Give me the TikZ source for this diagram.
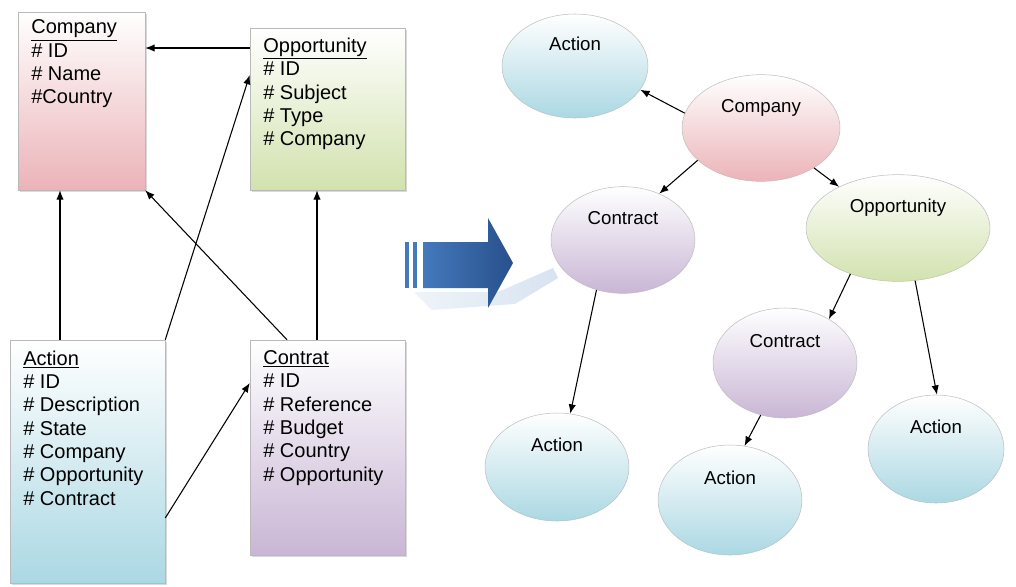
\documentclass[tikz,border=0pt]{standalone}
\usepackage{fontspec}
\setmainfont{Liberation Sans}
\usetikzlibrary{positioning,fit,shapes.geometric,shadows,arrows.meta}
\definecolor{compink}{HTML}{EBB3B8}
\definecolor{oppgreen}{HTML}{D2E2AE}
\definecolor{actblue}{HTML}{ABD8E3}
\definecolor{conpurple}{HTML}{C9B6D5}
\definecolor{arrowlight}{HTML}{4479BC}
\definecolor{arrowdark}{HTML}{28508C}
\begin{document}
\begin{tikzpicture}[x=0.75pt,y=-0.75pt,>={Latex[length=7pt,width=5.5pt]},
    box/.style={draw=gray!55, inner sep=0pt, top color=white,
      drop shadow={shadow xshift=1.5pt, shadow yshift=-1.5pt, opacity=0.3}},
    boxtext/.style={align=left, inner sep=0pt, font=\fontsize{15}{17.5}\selectfont},
    oval/.style={ellipse, draw=gray!50, inner sep=0pt, top color=white,
      minimum width=108pt, minimum height=80pt, text height=10pt, text depth=33pt,
      font=\fontsize{14}{16}\selectfont},
    link/.style={->, line width=0.8pt}]
  \useasboundingbox (0,0) rectangle (1016,586);
  % tables
  \node[box, bottom color=compink, fit={(18,12) (145,190)}] (company) {};
  \node[box, bottom color=oppgreen, fit={(250,28) (405,190)}] (opportunity) {};
  \node[box, bottom color=actblue, fit={(10,340) (165,583)}] (action) {};
  \node[box, bottom color=conpurple, fit={(250,340) (405,555)}] (contrat) {};
  %
  \node[boxtext, below right=6pt and 10pt of company.north west] (companytxt)
    {\underline{Company}\\\# ID\\\# Name\\\#Country};
  \node[boxtext, below right=7.5pt and 10pt of opportunity.north west] (opportunitytxt)
    {\underline{Opportunity}\\\# ID\\\# Subject\\\# Type\\\# Company};
  \node[boxtext, below right=8pt and 10pt of action.north west] (actiontxt)
    {\underline{Action}\\\# ID\\\# Description\\\# State\\\# Company\\\# Opportunity\\\# Contract};
  \node[boxtext, below right=8pt and 10pt of contrat.north west] (contrattxt)
    {\underline{Contrat}\\\# ID\\\# Reference\\\# Budget\\\# Country\\\# Opportunity};
  %
  \draw[link] ([shift={(0,-61)}]opportunity.west) -- ([shift={(0,-53)}]company.east);
  \draw[link] ([shift={(-27.5,0)}]action.north) -- ([shift={(-21.5,0)}]company.south);
  \draw[link] (action.north east) -- ([shift={(0,-34)}]opportunity.west);
  \draw[link] ([shift={(-40.5,0)}]contrat.north) -- (company.south east);
  \draw[link] ([shift={(-10.5,0)}]contrat.north) -- ([shift={(-10.5,0)}]opportunity.south);
  \draw[link] ([shift={(0,56.5)}]action.east) -- ([shift={(0,-64.5)}]contrat.west);
  % big arrow
  \shade[left color=arrowlight!12, right color=arrowlight!30, opacity=0.7] (414,292) -- (498,292)
    -- (553,268) -- (558,278) -- (515,304) -- (432,310) -- cycle;
  \shade[left color=arrowlight, right color=arrowdark] (423,242) -- (488,242) -- (488,218)
    -- (513,263) -- (488,308) -- (488,288) -- (423,288) -- cycle;
  \fill[arrowlight] (405,242) rectangle (409,288);
  \fill[arrowlight] (413,242) rectangle (417,288);
  % tree
  \node[oval, bottom color=actblue, minimum width=109.5pt, minimum height=78pt] (act1) at (575,66) {Action};
  \node[oval, bottom color=compink, minimum width=118.5pt] (comp) at (761,128) {Company};
  \node[oval, bottom color=conpurple] (contr1) at (623,240) {Contract};
  \node[oval, bottom color=oppgreen, minimum width=138pt] (opp) at (898,228) {Opportunity};
  \node[oval, bottom color=conpurple, minimum height=82.5pt] (contr2) at (785,363) {Contract};
  \node[oval, bottom color=actblue, minimum height=81pt] (act2) at (557,467) {Action};
  \node[oval, bottom color=actblue, minimum height=82.5pt] (act3) at (730,500) {Action};
  \node[oval, bottom color=actblue, minimum width=102pt, minimum height=81pt] (act4) at (936,449) {Action};
  %
  \draw[link] (comp.169) -- (act1.-20);
  \draw[link] (comp.207) -- (contr1.52);
  \draw[link] (comp.323) -- (opp.145);
  \draw[link] (contr1.242) -- (act2.76);
  \draw[link] (opp.224) -- (contr2.45);
  \draw[link] (opp.288) -- (act4.89);
  \draw[link] (contr2.245) -- (act3.75);
\end{tikzpicture}
\end{document}
